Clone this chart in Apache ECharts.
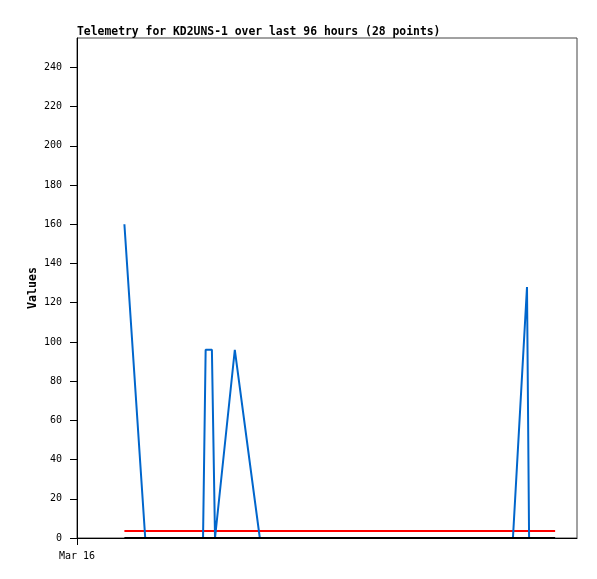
<!DOCTYPE html>
<html><head><meta charset="utf-8">
<script src="https://cdn.jsdelivr.net/npm/echarts@6/dist/echarts.min.js"></script>
<style>html,body{margin:0;padding:0;background:#fff}#c{width:597px;height:579px}</style>
</head><body><div id="c"></div>
<script>
// hours since start of window (Mar 16)
const hours = [9.1, 13.1, 16, 19, 22, 24.2, 24.7, 25.9, 26.5, 30.3, 35.1, 38, 40, 45, 50, 55, 60, 65, 70, 75, 78, 80, 83.7, 86.4, 86.8, 88, 90, 91.8];
const values = [160, 0, 0, 0, 0, 0, 96, 96, 0, 96, 0, 0, 0, 0, 0, 0, 0, 0, 0, 0, 0, 0, 0, 128, 0, 0, 0, 0];
const threshold = 3.6;
const baseline = 0;
const xTickLabels = ['Mar 16'];
const yTicks = [0, 20, 40, 60, 80, 100, 120, 140, 160, 180, 200, 220, 240];

const font = 'DejaVu Sans Mono';
const chart = echarts.init(document.getElementById('c'), null, {renderer: 'canvas'});
chart.setOption({
  animation: false,
  backgroundColor: '#fff',
  title: {
    text: 'Telemetry for KD2UNS-1 over last 96 hours (28 points)',
    left: 72, top: 22,
    textStyle: {fontFamily: font, fontSize: 11.4, fontWeight: 'bold', color: '#000'}
  },
  grid: {left: 77, right: 20, top: 38, bottom: 41, show: true, borderColor: '#444', borderWidth: 1, backgroundColor: '#fff'},
  xAxis: {
    type: 'value', min: 0, max: 96,
    axisLine: {show: true, lineStyle: {color: '#000', width: 1}},
    axisTick: {show: true, length: 7, customValues: [0], lineStyle: {color: '#000'}},
    axisLabel: {show: true, customValues: [0], formatter: () => xTickLabels[0], margin: 13,
      fontFamily: font, fontSize: 10, color: '#000'},
    splitLine: {show: false}
  },
  yAxis: {
    type: 'value', min: 0, max: 255, interval: 20,
    name: 'Values', nameLocation: 'middle', nameGap: 38, nameRotate: 90, nameMoveOverlap: false,
    nameTextStyle: {fontFamily: font, fontSize: 11.6, fontWeight: 'bold', color: '#000'},
    axisLine: {show: true, lineStyle: {color: '#000', width: 1}},
    axisTick: {show: true, length: 7, customValues: yTicks, lineStyle: {color: '#000'}},
    axisLabel: {customValues: yTicks, margin: 15, fontFamily: font, fontSize: 10, color: '#000'},
    splitLine: {show: false}
  },
  series: [
    {type: 'line', name: 'threshold', data: hours.map(h => [h, threshold]), showSymbol: false,
      lineStyle: {color: '#ff0000', width: 2}, z: 2},
    {type: 'line', name: 'values', data: hours.map((h, i) => [h, values[i]]), showSymbol: false,
      lineStyle: {color: '#0066cc', width: 2}, z: 3},
    {type: 'line', name: 'baseline', data: hours.map(h => [h, baseline]), showSymbol: false,
      lineStyle: {color: '#000', width: 2}, z: 4}
  ]
});
</script></body></html>
